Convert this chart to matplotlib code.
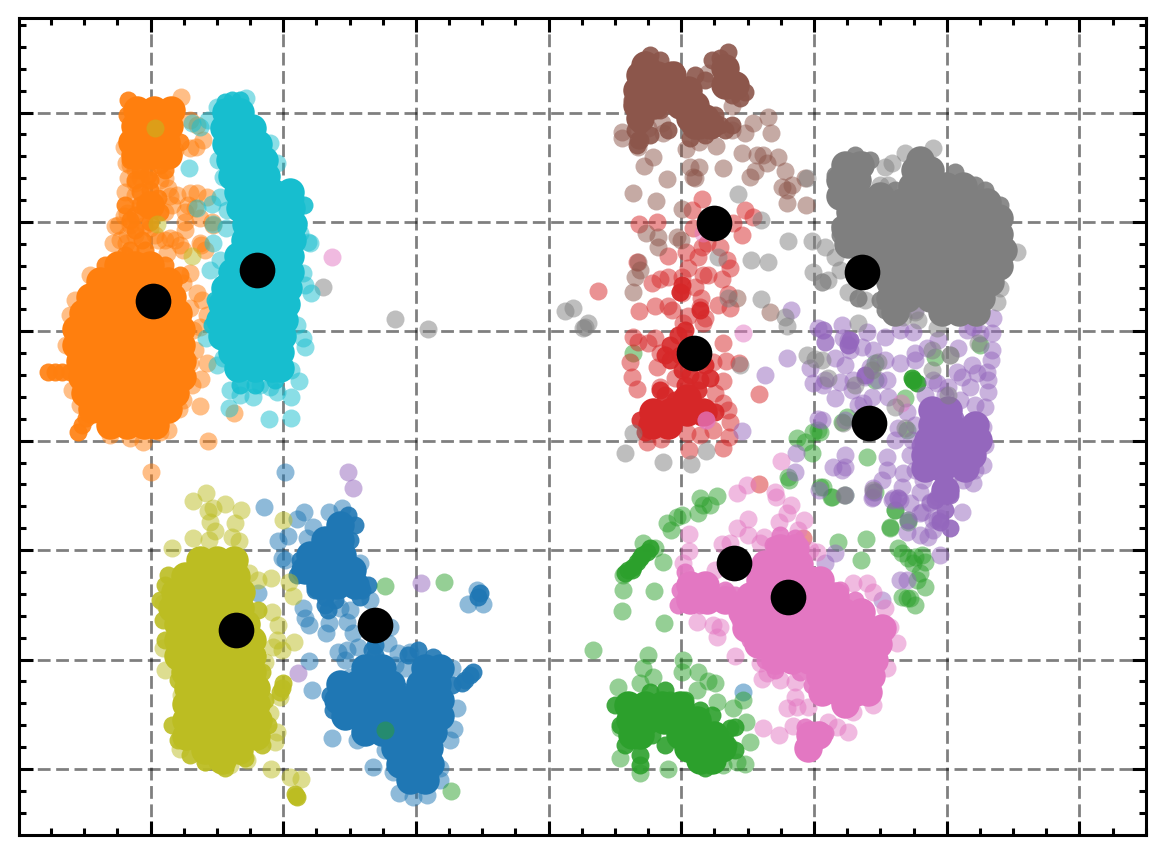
import numpy as np
import matplotlib
matplotlib.use("Agg")
import matplotlib.pyplot as plt
from matplotlib.ticker import AutoMinorLocator

# values, axis units match the picture (no tick labels there)
# core = densest parts as {y: [x, ...]}, solid = packed single points, sparse = loose points

blue_core = {525: [340], 540: [325, 340], 555: [310, 327, 342], 570: [305, 322, 339, 352], 585: [320, 337, 355],
             668: [365, 382, 425, 440], 684: [340, 357, 374, 391, 420, 437],
             700: [338, 355, 372, 389, 406, 423, 440], 716: [345, 362, 379, 396, 413, 430, 440],
             732: [365, 382, 399, 416, 433], 748: [395, 412, 429], 764: [400, 417, 430], 780: [410, 425]}
blue_solid = [(348, 515), (355, 525), (350, 540), (300, 560), (297, 575), (315, 590), (325, 597), (325, 605),
              (360, 597), (362, 590), (368, 585), (335, 600), (328, 610), (375, 645), (375, 655), (375, 635),
              (372, 650), (408, 655), (418, 650), (433, 657), (440, 665), (452, 685), (330, 695), (333, 710),
              (400, 690), (470, 675), (465, 680), (473, 672), (462, 683), (480, 593), (478, 597)]
blue_sparse = [(264, 507), (285, 472), (304, 512), (297, 519), (329, 512), (342, 508), (313, 527), (278, 541),
               (288, 536), (307, 538), (282, 558), (285, 560), (258, 593), (360, 563), (303, 608), (305, 618),
               (309, 625), (326, 633), (329, 623), (347, 622), (370, 600), (340, 608), (350, 610), (353, 633),
               (390, 627), (338, 652), (347, 650), (358, 647), (388, 643), (398, 653), (410, 652), (309, 661),
               (312, 690), (350, 677), (332, 738), (357, 740), (373, 767), (393, 772), (399, 793), (413, 797),
               (427, 795), (440, 780), (440, 768), (450, 740), (454, 729), (457, 708), (452, 668), (468, 604),
               (483, 604), (477, 590), (743, 692), (345, 660), (395, 665), (405, 668), (420, 760), (385, 750)]

orange_core = {110: [137, 154, 171], 126: [135, 152, 169], 142: [132, 149, 166], 155: [135, 152, 168], 205: [150],
               265: [118, 135, 150], 281: [100, 117, 134, 151, 168], 297: [90, 107, 124, 141, 158, 172],
               313: [83, 100, 117, 134, 151, 168, 178], 329: [76, 93, 110, 127, 144, 161, 178, 181],
               345: [76, 93, 110, 127, 144, 161, 178, 181], 361: [80, 97, 114, 131, 148, 165, 182],
               377: [82, 99, 116, 133, 150, 167, 182], 393: [85, 102, 119, 136, 153, 170, 175],
               409: [92, 109, 126, 143, 160, 168], 425: [110, 127, 144, 155]}
orange_solid = [(140, 192), (150, 190), (158, 198), (140, 205), (160, 212), (150, 222), (135, 215), (180, 142),
                (127, 115), (128, 100), (145, 160), (160, 165), (148, 175), (140, 170), (135, 230), (142, 240),
                (48, 372), (55, 372), (62, 372), (70, 372), (78, 372), (78, 432), (82, 425), (86, 418), (90, 410),
                (94, 403), (130, 250), (145, 250), (125, 255), (105, 265), (165, 265), (180, 275), (135, 180),
                (150, 180), (125, 205), (130, 220), (165, 170), (130, 160)]
orange_sparse = [(181, 97), (124, 147), (130, 165), (135, 170), (126, 163), (140, 165), (150, 160), (165, 160),
                 (172, 155), (175, 150), (190, 120), (197, 125), (203, 140), (196, 147), (190, 148), (128, 178),
                 (140, 178), (135, 183), (160, 180), (165, 178), (125, 192), (135, 195), (127, 213), (124, 216),
                 (168, 188), (170, 196), (177, 195), (165, 212), (172, 205), (190, 193), (197, 193), (207, 197),
                 (188, 205), (185, 212), (195, 208), (200, 218), (185, 222), (213, 225), (212, 222), (115, 226),
                 (120, 240), (126, 243), (118, 225), (130, 225), (135, 235), (145, 225), (155, 235), (165, 240),
                 (170, 238), (175, 240), (150, 228), (158, 240), (185, 230), (180, 245), (200, 243), (205, 250),
                 (190, 273), (183, 283), (197, 293), (190, 308), (202, 300), (207, 315), (193, 330), (200, 327),
                 (195, 350), (190, 363), (207, 363), (201, 379), (192, 385), (200, 406), (179, 409), (168, 430),
                 (143, 442), (208, 441), (151, 472), (234, 413), (90, 275), (201, 245), (113, 243), (127, 235),
                 (183, 250), (167, 253), (75, 300), (70, 315), (66, 345), (72, 390), (80, 405), (110, 435),
                 (130, 438), (160, 432), (183, 400)]

green_core = {705: [628, 645, 662, 680], 720: [630, 647, 664, 680, 697], 735: [632, 640, 680, 697, 714],
              748: [688, 705, 722], 760: [700, 712]}
green_solid = [(615, 705), (620, 725), (625, 745), (640, 755), (640, 765), (652, 735), (650, 692), (665, 690),
               (670, 700), (685, 700), (700, 710), (712, 715), (730, 728), (735, 727), (728, 745), (735, 750),
               (715, 763), (705, 768), (695, 760), (680, 725), (725, 740), (665, 745), (633, 567), (628, 570),
               (637, 562), (642, 555), (647, 552), (650, 548), (632, 570), (640, 558), (625, 573), (913, 380),
               (912, 378), (917, 383)]
green_sparse = [(648, 655), (643, 668), (683, 660), (682, 672), (698, 672), (708, 681), (618, 687), (640, 683),
                (653, 677), (717, 702), (733, 708), (743, 700), (746, 722), (750, 742), (745, 764), (737, 762),
                (668, 769), (620, 758), (640, 773), (620, 728), (697, 690), (715, 683), (723, 765), (623, 575),
                (623, 590), (654, 591), (622, 611), (664, 623), (663, 562), (643, 543), (655, 548), (667, 523),
                (671, 530), (677, 517), (682, 515), (698, 513), (700, 498), (717, 496), (710, 505), (703, 505),
                (593, 650), (789, 480), (820, 487), (831, 497), (845, 495), (838, 542), (866, 539), (861, 560),
                (890, 528), (895, 510), (908, 522), (898, 548), (902, 553), (908, 558), (915, 557), (922, 555),
                (925, 562), (920, 573), (917, 580), (925, 587), (907, 598), (910, 598), (915, 605), (902, 597),
                (913, 563), (905, 398), (875, 363), (875, 380), (847, 417), (842, 422), (820, 432), (867, 457),
                (907, 430), (832, 497), (823, 487), (875, 492), (895, 510), (890, 527), (908, 520), (935, 357),
                (980, 345), (797, 438), (805, 442), (813, 432), (818, 430), (812, 453), (788, 477), (633, 353),
                (385, 586), (444, 582), (385, 730), (451, 791)]

red_core = {412: [653, 670, 687, 703], 425: [652, 668], 398: [687]}
red_solid = [(685, 385), (660, 390), (665, 395), (690, 375), (700, 380), (710, 378), (705, 365), (680, 355),
             (670, 345), (678, 335), (685, 330), (670, 360), (665, 355), (700, 355), (682, 370), (698, 390),
             (715, 412), (680, 292), (682, 285), (700, 310), (675, 400), (640, 420), (645, 432)]
red_sparse = [(598, 291), (702, 199), (692, 210), (745, 210), (753, 217), (639, 224), (657, 222), (742, 235),
              (733, 223), (693, 228), (720, 247), (707, 243), (702, 247), (686, 252), (698, 257), (668, 256),
              (637, 262), (727, 260), (730, 268), (688, 268), (703, 275), (708, 275), (722, 279), (682, 277),
              (668, 277), (660, 279), (652, 283), (680, 292), (682, 293), (695, 287), (728, 294), (701, 298),
              (639, 311), (655, 306), (668, 306), (672, 310), (688, 316), (700, 307), (705, 318), (703, 323),
              (718, 305), (730, 308), (683, 323), (633, 337), (638, 342), (648, 343), (655, 338), (660, 353),
              (630, 362), (632, 377), (637, 389), (657, 367), (675, 378), (660, 387), (723, 343), (726, 361),
              (739, 363), (723, 381), (759, 394), (713, 362), (715, 393), (723, 403), (728, 410), (730, 422),
              (729, 437), (723, 448), (689, 450), (647, 442), (661, 439), (687, 433), (700, 435), (713, 430),
              (803, 538), (759, 484)]

purple_core = {410: [932, 948], 425: [932, 950, 975], 440: [928, 945, 962, 978], 455: [925, 942, 959, 972],
               468: [925, 942, 965], 490: [945]}
purple_solid = [(945, 483), (950, 495), (935, 500), (945, 510), (940, 522), (950, 528), (850, 340), (848, 345),
                (865, 375), (920, 445), (955, 418)]
purple_sparse = [(842, 325), (823, 330), (867, 332), (825, 342), (848, 340), (843, 338), (850, 350), (862, 347),
                 (873, 350), (885, 337), (913, 332), (900, 330), (938, 340), (915, 353), (927, 348), (958, 348),
                 (967, 330), (980, 333), (992, 333), (993, 318), (973, 327), (992, 350), (991, 360), (972, 365),
                 (957, 372), (962, 377), (977, 373), (987, 372), (988, 380), (988, 392), (970, 387), (933, 380),
                 (937, 383), (948, 387), (915, 360), (900, 363), (885, 360), (870, 367), (865, 377), (878, 380),
                 (887, 380), (835, 358), (845, 365), (840, 382), (825, 380), (853, 380), (835, 398), (852, 390),
                 (872, 397), (863, 403), (888, 397), (907, 412), (858, 405), (985, 407), (975, 405), (983, 427),
                 (983, 465), (973, 483), (963, 480), (898, 428), (895, 440), (887, 457), (887, 470), (882, 480),
                 (903, 473), (902, 487), (898, 498), (892, 500), (920, 492), (923, 480), (922, 512), (930, 502),
                 (962, 512), (940, 518), (845, 455), (833, 467), (845, 467), (842, 470), (873, 492), (872, 498),
                 (845, 420), (822, 420), (918, 290), (915, 310), (791, 310), (818, 328), (823, 330), (825, 342),
                 (787, 358), (810, 368), (765, 375), (813, 383), (823, 385), (818, 419), (742, 431), (796, 453),
                 (795, 472), (348, 472), (353, 488), (421, 583), (298, 673), (835, 553), (825, 563), (819, 490),
                 (845, 495), (873, 488), (873, 497), (900, 500), (907, 580), (900, 580), (882, 600), (940, 555),
                 (933, 520), (920, 513), (907, 532), (920, 535), (928, 537), (933, 530), (908, 520), (898, 498),
                 (910, 503), (893, 498), (930, 503), (937, 497), (937, 520), (915, 425), (912, 440), (910, 455),
                 (915, 470), (985, 445), (950, 475), (975, 470), (960, 400), (925, 395), (945, 395)]

brown_core = {65: [645], 75: [640, 657, 672], 90: [637, 654, 671, 688], 105: [637, 654, 680, 695],
              118: [640, 690, 705], 68: [725], 85: [725, 735], 125: [695, 710]}
brown_solid = [(640, 125), (632, 100), (635, 130), (638, 140), (650, 135), (660, 110), (668, 130), (645, 60),
               (650, 55), (660, 60), (675, 70), (695, 75), (705, 80), (720, 58), (728, 52), (712, 60), (735, 80),
               (745, 92), (732, 95), (740, 98), (715, 115), (720, 125), (705, 135), (690, 138), (700, 130),
               (732, 125), (725, 130), (640, 140), (637, 145)]
brown_sparse = [(622, 138), (622, 132), (638, 147), (648, 128), (663, 133), (662, 123), (653, 157), (644, 166),
                (667, 179), (633, 193), (656, 201), (682, 209), (646, 233), (658, 237), (658, 247), (677, 237),
                (681, 240), (686, 149), (699, 142), (716, 146), (723, 168), (690, 167), (699, 167), (695, 178),
                (693, 177), (732, 106), (742, 153), (757, 155), (763, 155), (778, 157), (767, 163), (755, 171),
                (750, 177), (785, 171), (782, 187), (787, 190), (792, 185), (787, 203), (806, 205), (805, 178),
                (753, 123), (745, 133), (768, 117), (771, 133), (732, 130), (638, 262), (640, 270), (635, 277),
                (633, 292), (737, 298), (770, 312), (708, 73), (738, 88)]

pink_core = {548: [780, 795], 564: [765, 782, 799], 580: [760, 777, 794, 811, 820],
             596: [750, 767, 784, 801, 818, 835], 612: [742, 759, 776, 793, 810, 827, 844, 861],
             628: [746, 763, 780, 797, 814, 831, 848, 865, 882], 644: [758, 775, 792, 809, 826, 843, 860, 878],
             660: [775, 792, 809, 826, 843, 860, 874], 676: [820, 837, 854, 871], 692: [822, 839, 856, 868],
             704: [845], 585: [690, 705], 600: [690, 707, 725], 735: [810, 818], 748: [808]}
pink_solid = [(685, 572), (680, 590), (678, 605), (700, 605), (725, 590), (730, 600), (715, 598), (735, 595),
              (808, 752), (805, 727), (820, 730), (825, 733), (780, 535), (773, 545), (795, 538), (740, 620),
              (750, 640), (765, 660), (775, 670), (800, 672), (812, 685), (840, 590), (855, 600)]
pink_sparse = [(737, 493), (747, 485), (775, 492), (776, 497), (791, 505), (787, 513), (748, 519), (737, 528),
               (748, 535), (779, 522), (804, 520), (798, 530), (689, 534), (689, 551), (683, 563), (722, 544),
               (730, 543), (764, 537), (760, 543), (715, 570), (727, 592), (697, 622), (713, 625), (717, 637),
               (720, 627), (735, 656), (760, 663), (767, 673), (762, 679), (780, 680), (795, 682), (795, 697),
               (787, 708), (797, 707), (808, 707), (793, 726), (763, 728), (779, 735), (848, 732), (837, 727),
               (828, 722), (873, 705), (853, 712), (853, 583), (867, 583), (873, 592), (885, 608), (890, 627),
               (897, 643), (887, 668), (817, 552), (810, 550), (332, 257), (743, 333), (781, 461), (706, 420),
               (706, 420), (703, 233), (901, 403)]

gray_core = {160: [920], 170: [915, 930], 186: [912, 929, 946, 963], 202: [902, 919, 936, 953, 970, 987],
             218: [880, 897, 914, 931, 948, 965, 982, 999], 234: [880, 897, 914, 931, 948, 965, 982, 999],
             250: [880, 897, 914, 931, 948, 965, 982, 1003], 266: [888, 905, 922, 939, 956, 973, 990, 999],
             282: [890, 907, 924, 941, 958, 975, 990], 298: [890, 907, 930, 947, 964, 981], 312: [895, 942, 959, 976],
             165: [845, 860], 180: [840, 857], 196: [840, 857, 880], 212: [850, 865], 228: [845, 862], 244: [848, 866]}
gray_solid = [(835, 175), (870, 160), (855, 155), (863, 160), (840, 235), (878, 205), (885, 195), (840, 225),
              (870, 235), (880, 300), (885, 310), (858, 298), (895, 190), (985, 190), (1000, 205), (955, 172),
              (975, 185)]
gray_sparse = [(933, 148), (905, 153), (885, 167), (892, 163), (880, 185), (888, 185), (825, 247), (835, 257),
               (840, 270), (828, 280), (822, 282), (848, 292), (865, 300), (915, 312), (903, 317), (918, 320),
               (937, 328), (858, 323), (1017, 252), (1000, 288), (997, 302), (828, 378), (855, 385), (950, 355),
               (950, 355), (948, 395), (932, 350), (978, 343), (895, 407), (932, 370), (822, 360), (872, 370),
               (878, 362), (843, 423), (905, 428), (844, 495), (873, 490), (565, 311), (573, 308), (585, 327),
               (588, 323), (583, 328), (738, 194), (761, 220), (788, 241), (812, 241), (751, 260), (768, 262),
               (718, 257), (813, 272), (822, 282), (761, 299), (785, 317), (787, 326), (807, 355), (815, 359),
               (728, 298), (740, 365), (633, 433), (625, 453), (663, 462), (691, 464), (706, 451), (807, 178),
               (395, 319), (428, 329), (323, 287)]

olive_core = {560: [200, 217, 234], 576: [185, 202, 219, 236], 592: [175, 192, 209, 226, 241],
              608: [172, 189, 206, 223, 240], 624: [178, 195, 212, 229, 246],
              640: [178, 195, 212, 229, 246, 252], 656: [178, 195, 212, 229, 246, 252],
              672: [185, 202, 219, 236, 252], 688: [188, 205, 222, 239, 256], 704: [186, 203, 220, 237, 256],
              720: [186, 203, 220, 237, 258], 736: [186, 203, 220, 237, 256], 750: [205, 222, 239], 760: [222]}
olive_solid = [(283, 683), (282, 688), (280, 692), (296, 796), (295, 794), (297, 797), (165, 585), (160, 600),
               (168, 575), (163, 620), (165, 640), (175, 660), (178, 680), (172, 725), (178, 740), (190, 755),
               (205, 762), (225, 768), (245, 758), (262, 745), (268, 725), (265, 700), (262, 672), (258, 610)]
olive_sparse = [(206, 493), (193, 501), (208, 511), (225, 504), (213, 508), (241, 510), (235, 523), (210, 522),
                (215, 531), (193, 538), (172, 548), (232, 537), (239, 541), (209, 540), (283, 520), (249, 573),
                (258, 580), (271, 578), (289, 582), (293, 596), (163, 603), (272, 612), (278, 625), (277, 640),
                (294, 642), (282, 650), (273, 647), (265, 662), (163, 648), (165, 670), (181, 695), (280, 697),
                (270, 713), (277, 732), (275, 742), (180, 749), (271, 769), (290, 777), (301, 779), (205, 762),
                (230, 765), (247, 760), (155, 128), (192, 256), (157, 224)]

cyan_core = {112: [226, 240], 128: [224, 241, 252], 144: [226, 243, 258], 160: [230, 247, 264], 176: [232, 249, 266],
             192: [238, 255, 272, 290], 208: [240, 257, 274, 291], 224: [246, 263, 280, 293], 240: [245, 262, 279, 292],
             256: [238, 255, 272, 290], 272: [232, 249, 266, 283, 290], 288: [225, 242, 259, 276, 288],
             304: [222, 239, 256, 273, 286], 320: [220, 237, 254, 271, 284], 336: [222, 239, 256, 273, 282],
             352: [232, 249, 266, 280], 368: [238, 255, 272, 280]}
cyan_solid = [(232, 100), (225, 102), (222, 115), (240, 100), (304, 205), (295, 198), (212, 325), (215, 300),
              (240, 385), (255, 385), (275, 380)]
cyan_sparse = [(189, 168), (213, 243), (226, 228), (213, 224), (212, 204), (197, 208), (192, 123), (200, 127),
               (208, 120), (246, 98), (217, 107), (270, 143), (277, 163), (282, 190), (308, 242), (300, 233),
               (218, 160), (223, 177), (227, 210), (220, 197), (310, 243), (303, 273), (305, 285), (311, 293),
               (297, 325), (303, 338), (305, 347), (206, 338), (217, 365), (223, 358), (210, 270), (220, 260),
               (230, 390), (240, 395), (253, 397), (277, 392), (299, 381), (291, 370), (291, 397), (229, 408),
               (269, 419), (291, 418), (260, 385), (270, 387)]

centers_x = [153, 257, 236, 375, 714, 694, 862, 869, 734, 788]
centers_y = [301, 270, 630, 625, 223, 353, 272, 423, 563, 597]

clusters = [
    ("tab:blue", blue_core, blue_solid, blue_sparse),
    ("tab:orange", orange_core, orange_solid, orange_sparse),
    ("tab:green", green_core, green_solid, green_sparse),
    ("tab:red", red_core, red_solid, red_sparse),
    ("tab:purple", purple_core, purple_solid, purple_sparse),
    ("tab:brown", brown_core, brown_solid, brown_sparse),
    ("tab:pink", pink_core, pink_solid, pink_sparse),
    ("tab:gray", gray_core, gray_solid, gray_sparse),
    ("tab:olive", olive_core, olive_solid, olive_sparse),
    ("tab:cyan", cyan_core, cyan_solid, cyan_sparse),
]


def unpack_rows(rows):
    xs, ys = [], []
    for y, row in rows.items():
        xs += row
        ys += [y] * len(row)
    return xs, ys


fig = plt.figure(figsize=(11.64, 8.54), dpi=100)
ax = fig.add_axes([18.5 / 1164, 1 - 835.5 / 854, (1146 - 18.5) / 1164, (835.5 - 18.5) / 854])

for color, core, solid, sparse in clusters:
    sx, sy = zip(*sparse)
    ax.scatter(sx, sy, s=168, color=color, alpha=0.5, linewidths=0, zorder=2)
    sx, sy = zip(*solid)
    ax.scatter(sx, sy, s=168, color=color, alpha=0.9, linewidths=0, zorder=2)
    cx, cy = unpack_rows(core)
    ax.scatter(cx, cy, s=420, color=color, linewidths=0, zorder=2)

ax.scatter(centers_x, centers_y, s=660, color="black", linewidths=0, zorder=3)

ax.set_xlim(18.5, 1146)
ax.set_ylim(835, 18)
ax.set_xticks(np.arange(150.5, 1146, 132.7))
ax.set_yticks(np.arange(113, 835, 109.4))
ax.xaxis.set_minor_locator(AutoMinorLocator(4))
ax.yaxis.set_minor_locator(AutoMinorLocator(5))
ax.tick_params(which="major", direction="in", length=10, width=2.2, top=True, right=True,
               labelbottom=False, labelleft=False)
ax.tick_params(which="minor", direction="in", length=5, width=2.2, top=True, right=True)
ax.set_axisbelow(True)
ax.grid(which="major", color="black", alpha=0.5, linewidth=2.0, linestyle=(0, (4.6, 2.0)))
for spine in ax.spines.values():
    spine.set_linewidth(2.2)

fig.savefig("out.png", dpi=100)
